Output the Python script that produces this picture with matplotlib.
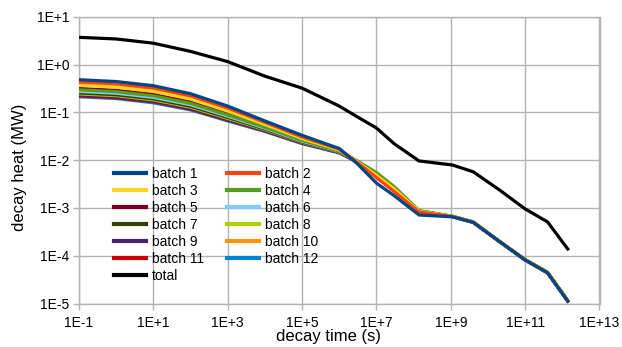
import matplotlib
matplotlib.use("Agg")
import matplotlib.pyplot as plt
from matplotlib.ticker import NullLocator

plt.rcParams['font.family'] = ['Liberation Sans', 'DejaVu Sans']

# decay time (s)
decay_time = [1e-1, 1e0, 1e1, 1e2, 1e3, 1e4, 1e5, 1e6, 3e6, 1e7, 3e7, 1.4e8,
              1.1e9, 4e9, 2e10, 1e11, 4e11, 1.4e12]

batch_1 = [0.48, 0.44, 0.36, 0.245, 0.135, 0.066, 0.033, 0.0175, 0.0085, 0.0033, 0.0018, 7.1e-4,
           6.5e-4, 5.0e-4, 2.0e-4, 8.1e-5, 4.4e-5, 1.12e-5]
batch_2 = [0.432, 0.396, 0.324, 0.221, 0.123, 0.0618, 0.0305, 0.0170, 0.0090, 0.0043, 0.0022, 8.2e-4,
           6.6e-4, 5.0e-4, 2.0e-4, 8.2e-5, 4.4e-5, 1.13e-5]
batch_3 = [0.365, 0.334, 0.274, 0.189, 0.106, 0.0557, 0.0283, 0.0163, 0.0093, 0.0048, 0.0025, 8.5e-4,
           6.6e-4, 5.0e-4, 2.0e-4, 8.2e-5, 4.4e-5, 1.13e-5]
batch_4 = [0.295, 0.271, 0.221, 0.154, 0.088, 0.0488, 0.0257, 0.0156, 0.0097, 0.0055, 0.0028, 8.8e-4,
           6.7e-4, 5.1e-4, 2.0e-4, 8.3e-5, 4.5e-5, 1.15e-5]
batch_5 = [0.317, 0.290, 0.238, 0.165, 0.094, 0.0510, 0.0266, 0.0159, 0.0093, 0.0049, 0.0025, 8.5e-4,
           6.6e-4, 5.0e-4, 2.0e-4, 8.2e-5, 4.4e-5, 1.13e-5]
batch_6 = [0.274, 0.251, 0.205, 0.144, 0.083, 0.0466, 0.0248, 0.0153, 0.0093, 0.0050, 0.0025, 8.5e-4,
           6.6e-4, 5.0e-4, 2.0e-4, 8.2e-5, 4.4e-5, 1.13e-5]
batch_7 = [0.254, 0.233, 0.191, 0.134, 0.078, 0.0446, 0.0240, 0.0150, 0.0094, 0.0051, 0.0026, 8.6e-4,
           6.6e-4, 5.0e-4, 2.0e-4, 8.2e-5, 4.4e-5, 1.13e-5]
batch_8 = [0.243, 0.223, 0.182, 0.128, 0.0745, 0.0432, 0.0236, 0.0148, 0.0095, 0.0053, 0.0027, 8.7e-4,
           6.7e-4, 5.1e-4, 2.0e-4, 8.3e-5, 4.5e-5, 1.15e-5]
batch_9 = [0.232, 0.213, 0.174, 0.123, 0.0717, 0.0420, 0.0231, 0.0146, 0.0093, 0.0050, 0.0025, 8.5e-4,
           6.6e-4, 5.0e-4, 2.0e-4, 8.2e-5, 4.4e-5, 1.13e-5]
batch_10 = [0.394, 0.361, 0.295, 0.203, 0.114, 0.0584, 0.0293, 0.0166, 0.0092, 0.0046, 0.0024, 8.4e-4,
            6.7e-4, 5.1e-4, 2.0e-4, 8.3e-5, 4.5e-5, 1.15e-5]
batch_11 = [0.221, 0.202, 0.166, 0.117, 0.0687, 0.0408, 0.0226, 0.0144, 0.0092, 0.0050, 0.0025, 8.5e-4,
            6.6e-4, 5.0e-4, 2.0e-4, 8.2e-5, 4.4e-5, 1.13e-5]
batch_12 = [0.211, 0.194, 0.158, 0.112, 0.066, 0.0397, 0.0221, 0.0141, 0.0092, 0.0050, 0.0025, 8.5e-4,
            6.6e-4, 5.0e-4, 2.0e-4, 8.2e-5, 4.4e-5, 1.13e-5]
total = [3.7, 3.42, 2.79, 1.88, 1.15, 0.57, 0.32, 0.135, 0.081, 0.047, 0.022, 0.0096,
         0.0079, 0.0057, 0.0024, 0.00095, 0.00051, 0.000138]

series_names = ["batch 1", "batch 2", "batch 3", "batch 4", "batch 5", "batch 6",
                "batch 7", "batch 8", "batch 9", "batch 10", "batch 11", "batch 12"]
series_values = [batch_1, batch_2, batch_3, batch_4, batch_5, batch_6,
                 batch_7, batch_8, batch_9, batch_10, batch_11, batch_12]
series_colors = ["#004586", "#ff420e", "#ffd320", "#579d1c", "#7e0021", "#83caff",
                 "#314004", "#aecf00", "#4b1f6f", "#ff950e", "#c5000b", "#0084d1"]

xtick_values = [1e-1, 1e1, 1e3, 1e5, 1e7, 1e9, 1e11, 1e13]
xtick_labels = ["1E-1", "1E+1", "1E+3", "1E+5", "1E+7", "1E+9", "1E+11", "1E+13"]
ytick_values = [1e-5, 1e-4, 1e-3, 1e-2, 1e-1, 1e0, 1e1]
ytick_labels = ["1E-5", "1E-4", "1E-3", "1E-2", "1E-1", "1E+0", "1E+1"]

W, H = 622, 347
x0, x1, y0, y1 = 79.0, 599.5, 16.7, 303.5
fig = plt.figure(figsize=(W / 100, H / 100), dpi=100)
ax = fig.add_axes([x0 / W, (H - y1) / H, (x1 - x0) / W, (y1 - y0) / H])

grid_c = "#b3b3b3"
lines = {}
n = len(series_names)
for i, (name, vals, col) in enumerate(zip(series_names, series_values, series_colors)):
    ln, = ax.plot(decay_time, vals, color=col, lw=2.3, label=name,
                  zorder=3 + (n - i) * 0.01, solid_joinstyle='round')
    lines[name] = ln
ln, = ax.plot(decay_time, total, color="black", lw=2.3, label="total", zorder=4,
              solid_joinstyle='round')
lines["total"] = ln

ax.set_xscale("log")
ax.set_yscale("log")
ax.set_xlim(1e-1, 1e13)
ax.set_ylim(1e-5, 1e1)
ax.set_xticks(xtick_values, labels=xtick_labels)
ax.set_yticks(ytick_values, labels=ytick_labels)
ax.xaxis.set_minor_locator(NullLocator())
ax.yaxis.set_minor_locator(NullLocator())
ax.grid(True, color=grid_c, lw=1.0, zorder=0)
ax.set_axisbelow(True)
for s in ax.spines.values():
    s.set_color(grid_c)
    s.set_linewidth(1.0)
ax.tick_params(direction="out", length=4, width=1, color=grid_c,
               labelsize=10, labelcolor="black")
ax.tick_params(axis="x", pad=5)
ax.tick_params(axis="y", pad=3)

ax.set_xlabel("decay time (s)", fontsize=12)
ax.set_ylabel("decay heat (MW)", fontsize=12)
ax.xaxis.set_label_coords((329 - x0) / (x1 - x0), -(337 - y1) / (y1 - y0), transform=ax.transAxes)
ax.yaxis.set_label_coords(-(x0 - 20) / (x1 - x0), (y1 - 167.5) / (y1 - y0), transform=ax.transAxes)
ax.xaxis.label.set_va("center")
ax.yaxis.label.set_va("center")

order = ["batch 1", "batch 3", "batch 5", "batch 7", "batch 9", "batch 11", "total",
         "batch 2", "batch 4", "batch 6", "batch 8", "batch 10", "batch 12"]
leg = ax.legend([lines[k] for k in order], order, ncol=2, frameon=False,
                loc="upper left", bbox_to_anchor=(114 / W, 1 - 167 / H),
                bbox_transform=fig.transFigure, fontsize=10,
                handlelength=2.3, handletextpad=0.4, columnspacing=1.7,
                labelspacing=0.22, borderpad=0.0, borderaxespad=0.0)
for h in leg.get_lines():
    h.set_linewidth(3.0)

fig.savefig("out.png", dpi=100)
